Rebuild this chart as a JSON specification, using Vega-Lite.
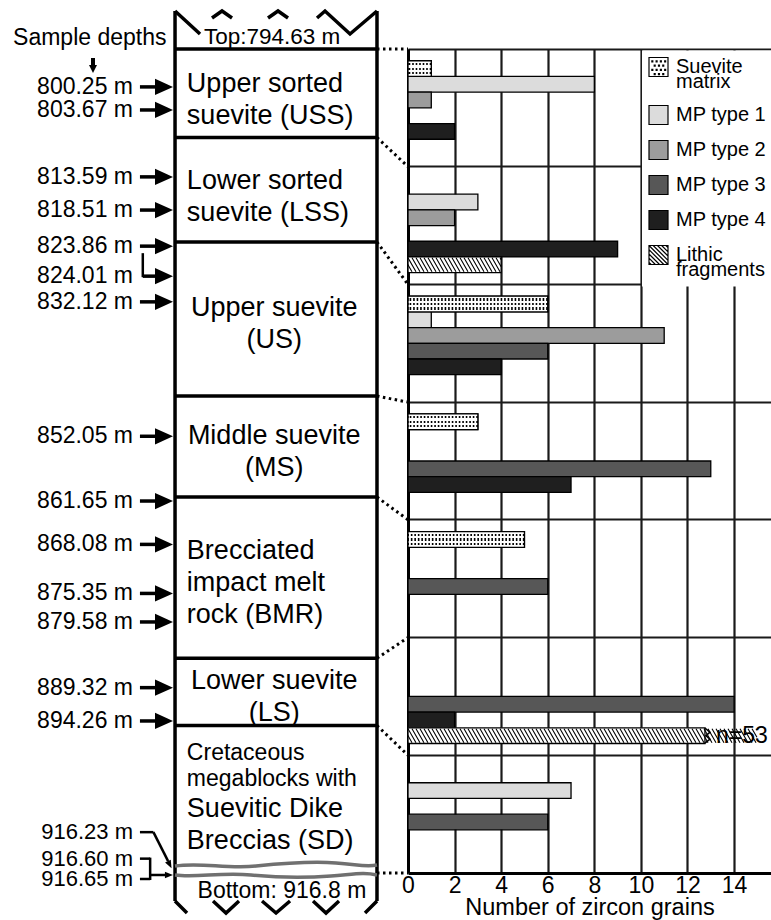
{
  "$schema": "https://vega.github.io/schema/vega-lite/v6.json",
  "background": "white",
  "padding": {"top": 4, "left": 0, "right": 0, "bottom": 0},
  "spacing": 0,
  "bounds": "flush",
  "config": {"font": "Liberation Sans", "mark": {"color": "black"}, "view": {"stroke": null}},
  "datasets": {
    "units": [
      {"unit": "USS", "label": "Upper sorted\nsuevite (USS)", "top": 794.63, "bottom": 807.75},
      {"unit": "LSS", "label": "Lower sorted\nsuevite (LSS)", "top": 807.75, "bottom": 823.25},
      {"unit": "US", "label": "Upper suevite\n(US)", "top": 823.25, "bottom": 846.09},
      {"unit": "MS", "label": "Middle suevite\n(MS)", "top": 846.09, "bottom": 861.06},
      {"unit": "BMR", "label": "Brecciated\nimpact melt\nrock (BMR)", "top": 861.06, "bottom": 884.96},
      {"unit": "LS", "label": "Lower suevite\n(LS)", "top": 884.96, "bottom": 894.94},
      {"unit": "SD", "label": "Suevitic Dike\nBreccias (SD)", "sublabel": "Cretaceous\nmegablocks with", "top": 894.94, "bottom": 916.8}
    ],
    "boundaries": [
      {"depth": 794.63, "section": 0}, {"depth": 807.75, "section": 1}, {"depth": 823.25, "section": 2},
      {"depth": 846.09, "section": 3}, {"depth": 861.06, "section": 4}, {"depth": 884.96, "section": 5},
      {"depth": 894.94, "section": 6}, {"depth": 916.8, "section": 7}
    ],
    "samples": [
      {"depth": 800.25, "label": "800.25 m"}, {"depth": 803.67, "label": "803.67 m"},
      {"depth": 813.59, "label": "813.59 m"}, {"depth": 818.51, "label": "818.51 m"},
      {"depth": 823.86, "label": "823.86 m"}, {"depth": 824.01, "label": "824.01 m"},
      {"depth": 832.12, "label": "832.12 m"}, {"depth": 852.05, "label": "852.05 m"},
      {"depth": 861.65, "label": "861.65 m"}, {"depth": 868.08, "label": "868.08 m"},
      {"depth": 875.35, "label": "875.35 m"}, {"depth": 879.58, "label": "879.58 m"},
      {"depth": 889.32, "label": "889.32 m"}, {"depth": 894.26, "label": "894.26 m"},
      {"depth": 916.23, "label": "916.23 m"}, {"depth": 916.6, "label": "916.60 m"},
      {"depth": 916.65, "label": "916.65 m"}
    ],
    "zircons": [
      {"section": "USS", "type": "Suevite matrix", "count": 1},
      {"section": "USS", "type": "MP type 1", "count": 8},
      {"section": "USS", "type": "MP type 2", "count": 1},
      {"section": "USS", "type": "MP type 4", "count": 2},
      {"section": "LSS", "type": "MP type 1", "count": 3},
      {"section": "LSS", "type": "MP type 2", "count": 2},
      {"section": "LSS", "type": "MP type 4", "count": 9},
      {"section": "LSS", "type": "Lithic fragments", "count": 4},
      {"section": "US", "type": "Suevite matrix", "count": 6},
      {"section": "US", "type": "MP type 1", "count": 1},
      {"section": "US", "type": "MP type 2", "count": 11},
      {"section": "US", "type": "MP type 3", "count": 6},
      {"section": "US", "type": "MP type 4", "count": 4},
      {"section": "MS", "type": "Suevite matrix", "count": 3},
      {"section": "MS", "type": "MP type 3", "count": 13},
      {"section": "MS", "type": "MP type 4", "count": 7},
      {"section": "BMR", "type": "Suevite matrix", "count": 5},
      {"section": "BMR", "type": "MP type 3", "count": 6},
      {"section": "LS", "type": "MP type 3", "count": 14},
      {"section": "LS", "type": "MP type 4", "count": 2},
      {"section": "LS", "type": "Lithic fragments", "count": 53},
      {"section": "SD", "type": "MP type 1", "count": 7},
      {"section": "SD", "type": "MP type 3", "count": 6}
    ]
  },
  "hconcat": [
    {
      "width": 408,
      "height": 824,
      "layer": [
        {
          "data": {"name": "units"},
          "mark": {"type": "rule", "strokeWidth": 3.5},
          "encoding": {
            "x": {"datum": 0.429, "type": "quantitative", "scale": {"domain": [0, 1]}, "axis": null},
            "x2": {"datum": 0.924},
            "y": {"field": "top", "type": "quantitative", "scale": {"domain": [794.63, 916.8], "reverse": true, "nice": false, "zero": false}, "axis": null}
          }
        },
        {
          "data": {"values": [{}]},
          "mark": {"type": "rule", "strokeWidth": 3.5, "yOffset": -38, "y2Offset": 28},
          "encoding": {
            "x": {"datum": 0.429, "type": "quantitative", "scale": {"domain": [0, 1]}, "axis": null},
            "y": {"datum": 794.63, "type": "quantitative", "scale": {"domain": [794.63, 916.8], "reverse": true, "nice": false, "zero": false}, "axis": null},
            "y2": {"datum": 916.8}
          }
        },
        {
          "data": {"values": [{}]},
          "mark": {"type": "rule", "strokeWidth": 3.5, "yOffset": -38, "y2Offset": 28},
          "encoding": {
            "x": {"datum": 0.924, "type": "quantitative", "scale": {"domain": [0, 1]}, "axis": null},
            "y": {"datum": 794.63, "type": "quantitative", "scale": {"domain": [794.63, 916.8], "reverse": true, "nice": false, "zero": false}, "axis": null},
            "y2": {"datum": 916.8}
          }
        },
        {
          "data": {"values": [{}]},
          "mark": {"type": "point", "shape": "M-101,-11L-76,12M-64,-4L-54,-11L-44,-4M-8,-4L2,-11L12,-4M41,-4L49,-11L74,12L101,-11", "size": 4, "filled": false, "strokeWidth": 3.5, "opacity": 1, "yOffset": -27},
          "encoding": {
            "x": {"datum": 0.6765, "type": "quantitative", "scale": {"domain": [0, 1]}, "axis": null},
            "y": {"datum": 794.63, "type": "quantitative", "scale": {"domain": [794.63, 916.8], "reverse": true, "nice": false, "zero": false}, "axis": null}
          }
        },
        {
          "data": {"values": [{}]},
          "mark": {"type": "point", "shape": "M-101,-6L-89,6M-63,-6L-50,6L-37,-6M-14,-6L0,6L14,-6M37,-6L50,6L63,-6M89,6L101,-6", "size": 4, "filled": false, "strokeWidth": 3.5, "opacity": 1, "yOffset": 34},
          "encoding": {
            "x": {"datum": 0.6765, "type": "quantitative", "scale": {"domain": [0, 1]}, "axis": null},
            "y": {"datum": 916.8, "type": "quantitative", "scale": {"domain": [794.63, 916.8], "reverse": true, "nice": false, "zero": false}, "axis": null}
          }
        },
        {
          "data": {"values": [{}]},
          "mark": {"type": "point", "shape": "M-101,1C-75,-3,-50,4,-20,1S35,-4,60,-2S90,2,101,0", "size": 4, "filled": false, "stroke": "#707070", "strokeWidth": 3.5, "opacity": 1, "yOffset": -8},
          "encoding": {
            "x": {"datum": 0.6765, "type": "quantitative", "scale": {"domain": [0, 1]}, "axis": null},
            "y": {"datum": 916.8, "type": "quantitative", "scale": {"domain": [794.63, 916.8], "reverse": true, "nice": false, "zero": false}, "axis": null}
          }
        },
        {
          "data": {"values": [{}]},
          "mark": {"type": "point", "shape": "M-101,0C-80,3,-55,-3,-25,0S30,3,55,1S88,-3,101,0", "size": 4, "filled": false, "stroke": "#707070", "strokeWidth": 3.5, "opacity": 1, "yOffset": 2},
          "encoding": {
            "x": {"datum": 0.6765, "type": "quantitative", "scale": {"domain": [0, 1]}, "axis": null},
            "y": {"datum": 916.8, "type": "quantitative", "scale": {"domain": [794.63, 916.8], "reverse": true, "nice": false, "zero": false}, "axis": null}
          }
        },
        {
          "data": {"values": [{}]},
          "mark": {"type": "text", "align": "center", "baseline": "middle", "fontSize": 22.5, "dy": -12},
          "encoding": {
            "x": {"datum": 0.667, "type": "quantitative", "scale": {"domain": [0, 1]}, "axis": null},
            "y": {"datum": 794.63, "type": "quantitative", "scale": {"domain": [794.63, 916.8], "reverse": true, "nice": false, "zero": false}, "axis": null},
            "text": {"value": "Top:794.63 m"}
          }
        },
        {
          "data": {"values": [{}]},
          "mark": {"type": "text", "align": "center", "baseline": "middle", "fontSize": 23, "dy": 18},
          "encoding": {
            "x": {"datum": 0.691, "type": "quantitative", "scale": {"domain": [0, 1]}, "axis": null},
            "y": {"datum": 916.8, "type": "quantitative", "scale": {"domain": [794.63, 916.8], "reverse": true, "nice": false, "zero": false}, "axis": null},
            "text": {"value": "Bottom: 916.8 m"}
          }
        },
        {
          "data": {"values": [{}]},
          "mark": {"type": "text", "align": "left", "baseline": "middle", "fontSize": 23, "dy": -11},
          "encoding": {
            "x": {"datum": 0.032, "type": "quantitative", "scale": {"domain": [0, 1]}, "axis": null},
            "y": {"datum": 794.63, "type": "quantitative", "scale": {"domain": [794.63, 916.8], "reverse": true, "nice": false, "zero": false}, "axis": null},
            "text": {"value": "Sample depths"}
          }
        },
        {
          "data": {"values": [{}]},
          "mark": {"type": "rule", "strokeWidth": 4, "yOffset": 9, "y2Offset": 16},
          "encoding": {
            "x": {"datum": 0.228, "type": "quantitative", "scale": {"domain": [0, 1]}, "axis": null},
            "y": {"datum": 794.63, "type": "quantitative", "scale": {"domain": [794.63, 916.8], "reverse": true, "nice": false, "zero": false}, "axis": null},
            "y2": {"datum": 794.63}
          }
        },
        {
          "data": {"values": [{}]},
          "mark": {"type": "point", "shape": "M-1,-1L1,-1L0,1Z", "size": 64, "filled": true, "opacity": 1, "yOffset": 20},
          "encoding": {
            "x": {"datum": 0.228, "type": "quantitative", "scale": {"domain": [0, 1]}, "axis": null},
            "y": {"datum": 794.63, "type": "quantitative", "scale": {"domain": [794.63, 916.8], "reverse": true, "nice": false, "zero": false}, "axis": null}
          }
        },
        {
          "data": {"name": "boundaries"},
          "transform": [{"calculate": "794.63 + datum.section * (916.8 - 794.63) / 7", "as": "panel_depth"}],
          "mark": {"type": "rule", "strokeWidth": 3, "strokeDash": [2.5, 3.5]},
          "encoding": {
            "x": {"datum": 0.924, "type": "quantitative", "scale": {"domain": [0, 1]}, "axis": null},
            "x2": {"datum": 1},
            "y": {"field": "depth", "type": "quantitative", "scale": {"domain": [794.63, 916.8], "reverse": true, "nice": false, "zero": false}, "axis": null},
            "y2": {"field": "panel_depth"}
          }
        },
        {
          "data": {"name": "units"},
          "transform": [{"calculate": "(datum.top + datum.bottom) / 2", "as": "mid"}, {"filter": {"field": "unit", "oneOf": ["US", "MS", "LS"]}}],
          "mark": {"type": "text", "align": "center", "baseline": "middle", "fontSize": 27, "lineBreak": "\n", "lineHeight": 32, "dy": -11},
          "encoding": {
            "x": {"datum": 0.672, "type": "quantitative", "scale": {"domain": [0, 1]}, "axis": null},
            "y": {"field": "mid", "type": "quantitative", "scale": {"domain": [794.63, 916.8], "reverse": true, "nice": false, "zero": false}, "axis": null},
            "text": {"field": "label"}
          }
        },
        {
          "data": {"name": "units"},
          "transform": [{"calculate": "(datum.top + datum.bottom) / 2", "as": "mid"}, {"filter": {"field": "unit", "oneOf": ["USS", "LSS"]}}],
          "mark": {"type": "text", "align": "left", "baseline": "middle", "fontSize": 27, "lineBreak": "\n", "lineHeight": 32, "dy": -9},
          "encoding": {
            "x": {"datum": 0.458, "type": "quantitative", "scale": {"domain": [0, 1]}, "axis": null},
            "y": {"field": "mid", "type": "quantitative", "scale": {"domain": [794.63, 916.8], "reverse": true, "nice": false, "zero": false}, "axis": null},
            "text": {"field": "label"}
          }
        },
        {
          "data": {"name": "units"},
          "transform": [{"calculate": "(datum.top + datum.bottom) / 2", "as": "mid"}, {"filter": "datum.unit === 'BMR'"}],
          "mark": {"type": "text", "align": "left", "baseline": "middle", "fontSize": 27, "lineBreak": "\n", "lineHeight": 32, "dy": -27},
          "encoding": {
            "x": {"datum": 0.458, "type": "quantitative", "scale": {"domain": [0, 1]}, "axis": null},
            "y": {"field": "mid", "type": "quantitative", "scale": {"domain": [794.63, 916.8], "reverse": true, "nice": false, "zero": false}, "axis": null},
            "text": {"field": "label"}
          }
        },
        {
          "data": {"name": "units"},
          "transform": [{"calculate": "(datum.top + datum.bottom) / 2", "as": "mid"}, {"filter": "datum.unit === 'SD'"}],
          "mark": {"type": "text", "align": "left", "baseline": "middle", "fontSize": 27, "lineBreak": "\n", "lineHeight": 32, "dy": 10},
          "encoding": {
            "x": {"datum": 0.458, "type": "quantitative", "scale": {"domain": [0, 1]}, "axis": null},
            "y": {"field": "mid", "type": "quantitative", "scale": {"domain": [794.63, 916.8], "reverse": true, "nice": false, "zero": false}, "axis": null},
            "text": {"field": "label"}
          }
        },
        {
          "data": {"name": "units"},
          "transform": [{"calculate": "(datum.top + datum.bottom) / 2", "as": "mid"}, {"filter": "datum.unit === 'SD'"}],
          "mark": {"type": "text", "align": "left", "baseline": "middle", "fontSize": 23, "lineBreak": "\n", "lineHeight": 26, "dy": -46},
          "encoding": {
            "x": {"datum": 0.458, "type": "quantitative", "scale": {"domain": [0, 1]}, "axis": null},
            "y": {"field": "mid", "type": "quantitative", "scale": {"domain": [794.63, 916.8], "reverse": true, "nice": false, "zero": false}, "axis": null},
            "text": {"field": "sublabel"}
          }
        },
        {
          "data": {"name": "samples"},
          "transform": [{"filter": "datum.depth != 824.01 && datum.depth < 916"}],
          "mark": {"type": "text", "align": "right", "baseline": "middle", "fontSize": 23},
          "encoding": {
            "x": {"datum": 0.326, "type": "quantitative", "scale": {"domain": [0, 1]}, "axis": null},
            "y": {"field": "depth", "type": "quantitative", "scale": {"domain": [794.63, 916.8], "reverse": true, "nice": false, "zero": false}, "axis": null},
            "text": {"field": "label"}
          }
        },
        {
          "data": {"name": "samples"},
          "transform": [{"filter": "datum.depth != 824.01 && datum.depth < 916"}],
          "mark": {"type": "rule", "strokeWidth": 3.5},
          "encoding": {
            "x": {"datum": 0.343, "type": "quantitative", "scale": {"domain": [0, 1]}, "axis": null},
            "x2": {"datum": 0.392},
            "y": {"field": "depth", "type": "quantitative", "scale": {"domain": [794.63, 916.8], "reverse": true, "nice": false, "zero": false}, "axis": null}
          }
        },
        {
          "data": {"name": "samples"},
          "transform": [{"filter": "datum.depth != 824.01 && datum.depth < 916"}],
          "mark": {"type": "point", "shape": "M-1,-0.9L1,0L-1,0.9Z", "size": 324, "filled": true, "opacity": 1},
          "encoding": {
            "x": {"datum": 0.402, "type": "quantitative", "scale": {"domain": [0, 1]}, "axis": null},
            "y": {"field": "depth", "type": "quantitative", "scale": {"domain": [794.63, 916.8], "reverse": true, "nice": false, "zero": false}, "axis": null}
          }
        },
        {
          "data": {"name": "samples"},
          "transform": [{"filter": "datum.depth == 824.01"}],
          "mark": {"type": "text", "align": "right", "baseline": "middle", "fontSize": 23, "dy": 29},
          "encoding": {
            "x": {"datum": 0.326, "type": "quantitative", "scale": {"domain": [0, 1]}, "axis": null},
            "y": {"field": "depth", "type": "quantitative", "scale": {"domain": [794.63, 916.8], "reverse": true, "nice": false, "zero": false}, "axis": null},
            "text": {"field": "label"}
          }
        },
        {
          "data": {"name": "samples"},
          "transform": [{"filter": "datum.depth == 824.01"}],
          "mark": {"type": "rule", "strokeWidth": 3.5, "yOffset": 29},
          "encoding": {
            "x": {"datum": 0.35, "type": "quantitative", "scale": {"domain": [0, 1]}, "axis": null},
            "x2": {"datum": 0.392},
            "y": {"field": "depth", "type": "quantitative", "scale": {"domain": [794.63, 916.8], "reverse": true, "nice": false, "zero": false}, "axis": null}
          }
        },
        {
          "data": {"name": "samples"},
          "transform": [{"filter": "datum.depth == 824.01"}],
          "mark": {"type": "rule", "strokeWidth": 2.5, "yOffset": 6, "y2Offset": 30},
          "encoding": {
            "x": {"datum": 0.35, "type": "quantitative", "scale": {"domain": [0, 1]}, "axis": null},
            "y": {"field": "depth", "type": "quantitative", "scale": {"domain": [794.63, 916.8], "reverse": true, "nice": false, "zero": false}, "axis": null},
            "y2": {"field": "depth"}
          }
        },
        {
          "data": {"name": "samples"},
          "transform": [{"filter": "datum.depth == 824.01"}],
          "mark": {"type": "point", "shape": "M-1,-0.9L1,0L-1,0.9Z", "size": 324, "filled": true, "opacity": 1, "yOffset": 29},
          "encoding": {
            "x": {"datum": 0.402, "type": "quantitative", "scale": {"domain": [0, 1]}, "axis": null},
            "y": {"field": "depth", "type": "quantitative", "scale": {"domain": [794.63, 916.8], "reverse": true, "nice": false, "zero": false}, "axis": null}
          }
        },
        {
          "data": {"name": "samples"},
          "transform": [{"filter": "datum.depth == 916.23"}],
          "mark": {"type": "text", "align": "right", "baseline": "middle", "fontSize": 22, "dy": -37},
          "encoding": {
            "x": {"datum": 0.326, "type": "quantitative", "scale": {"domain": [0, 1]}, "axis": null},
            "y": {"field": "depth", "type": "quantitative", "scale": {"domain": [794.63, 916.8], "reverse": true, "nice": false, "zero": false}, "axis": null},
            "text": {"field": "label"}
          }
        },
        {
          "data": {"name": "samples"},
          "transform": [{"filter": "datum.depth == 916.23"}],
          "mark": {"type": "rule", "strokeWidth": 2.5, "yOffset": -37},
          "encoding": {
            "x": {"datum": 0.343, "type": "quantitative", "scale": {"domain": [0, 1]}, "axis": null},
            "x2": {"datum": 0.376},
            "y": {"field": "depth", "type": "quantitative", "scale": {"domain": [794.63, 916.8], "reverse": true, "nice": false, "zero": false}, "axis": null}
          }
        },
        {
          "data": {"name": "samples"},
          "transform": [{"filter": "datum.depth == 916.23"}],
          "mark": {"type": "rule", "strokeWidth": 2.5, "yOffset": -37, "y2Offset": -8},
          "encoding": {
            "x": {"datum": 0.376, "type": "quantitative", "scale": {"domain": [0, 1]}, "axis": null},
            "x2": {"datum": 0.412},
            "y": {"field": "depth", "type": "quantitative", "scale": {"domain": [794.63, 916.8], "reverse": true, "nice": false, "zero": false}, "axis": null},
            "y2": {"field": "depth"}
          }
        },
        {
          "data": {"name": "samples"},
          "transform": [{"filter": "datum.depth == 916.23"}],
          "mark": {"type": "point", "shape": "M-1,-0.8L1,0L-1,0.8Z", "size": 64, "filled": true, "opacity": 1, "angle": 63, "yOffset": -4.5},
          "encoding": {
            "x": {"datum": 0.416, "type": "quantitative", "scale": {"domain": [0, 1]}, "axis": null},
            "y": {"field": "depth", "type": "quantitative", "scale": {"domain": [794.63, 916.8], "reverse": true, "nice": false, "zero": false}, "axis": null}
          }
        },
        {
          "data": {"name": "samples"},
          "transform": [{"filter": "datum.depth == 916.6"}],
          "mark": {"type": "text", "align": "right", "baseline": "middle", "fontSize": 22, "dy": -13},
          "encoding": {
            "x": {"datum": 0.326, "type": "quantitative", "scale": {"domain": [0, 1]}, "axis": null},
            "y": {"field": "depth", "type": "quantitative", "scale": {"domain": [794.63, 916.8], "reverse": true, "nice": false, "zero": false}, "axis": null},
            "text": {"field": "label"}
          }
        },
        {
          "data": {"name": "samples"},
          "transform": [{"filter": "datum.depth == 916.6"}],
          "mark": {"type": "rule", "strokeWidth": 2.5, "yOffset": -13},
          "encoding": {
            "x": {"datum": 0.343, "type": "quantitative", "scale": {"domain": [0, 1]}, "axis": null},
            "x2": {"datum": 0.368},
            "y": {"field": "depth", "type": "quantitative", "scale": {"domain": [794.63, 916.8], "reverse": true, "nice": false, "zero": false}, "axis": null}
          }
        },
        {
          "data": {"name": "samples"},
          "transform": [{"filter": "datum.depth == 916.6"}],
          "mark": {"type": "rule", "strokeWidth": 2.5, "yOffset": -14, "y2Offset": 8},
          "encoding": {
            "x": {"datum": 0.368, "type": "quantitative", "scale": {"domain": [0, 1]}, "axis": null},
            "y": {"field": "depth", "type": "quantitative", "scale": {"domain": [794.63, 916.8], "reverse": true, "nice": false, "zero": false}, "axis": null},
            "y2": {"datum": 916.65}
          }
        },
        {
          "data": {"name": "samples"},
          "transform": [{"filter": "datum.depth == 916.65"}],
          "mark": {"type": "text", "align": "right", "baseline": "middle", "fontSize": 22, "dy": 7},
          "encoding": {
            "x": {"datum": 0.326, "type": "quantitative", "scale": {"domain": [0, 1]}, "axis": null},
            "y": {"field": "depth", "type": "quantitative", "scale": {"domain": [794.63, 916.8], "reverse": true, "nice": false, "zero": false}, "axis": null},
            "text": {"field": "label"}
          }
        },
        {
          "data": {"name": "samples"},
          "transform": [{"filter": "datum.depth == 916.65"}],
          "mark": {"type": "rule", "strokeWidth": 2.5, "yOffset": 7},
          "encoding": {
            "x": {"datum": 0.343, "type": "quantitative", "scale": {"domain": [0, 1]}, "axis": null},
            "x2": {"datum": 0.368},
            "y": {"field": "depth", "type": "quantitative", "scale": {"domain": [794.63, 916.8], "reverse": true, "nice": false, "zero": false}, "axis": null}
          }
        },
        {
          "data": {"name": "samples"},
          "transform": [{"filter": "datum.depth == 916.65"}],
          "mark": {"type": "rule", "strokeWidth": 2.5, "yOffset": 3},
          "encoding": {
            "x": {"datum": 0.368, "type": "quantitative", "scale": {"domain": [0, 1]}, "axis": null},
            "x2": {"datum": 0.405},
            "y": {"field": "depth", "type": "quantitative", "scale": {"domain": [794.63, 916.8], "reverse": true, "nice": false, "zero": false}, "axis": null}
          }
        },
        {
          "data": {"name": "samples"},
          "transform": [{"filter": "datum.depth == 916.65"}],
          "mark": {"type": "point", "shape": "M-1,-0.8L1,0L-1,0.8Z", "size": 64, "filled": true, "opacity": 1, "yOffset": 3},
          "encoding": {
            "x": {"datum": 0.414, "type": "quantitative", "scale": {"domain": [0, 1]}, "axis": null},
            "y": {"field": "depth", "type": "quantitative", "scale": {"domain": [794.63, 916.8], "reverse": true, "nice": false, "zero": false}, "axis": null}
          }
        }
      ]
    },
    {
      "width": 363,
      "height": 824,
      "data": {"name": "zircons"},
      "transform": [{"calculate": "datum.count > 15 ? 12.75 : datum.count", "as": "shown"}],
      "encoding": {
        "y": {
          "field": "section", "type": "nominal",
          "sort": ["USS", "LSS", "US", "MS", "BMR", "LS", "SD"],
          "scale": {"domain": ["USS", "LSS", "US", "MS", "BMR", "LS", "SD"], "paddingInner": 0, "paddingOuter": 0},
          "axis": {"title": null, "labels": false, "ticks": false, "domain": true, "domainWidth": 3, "domainColor": "black", "grid": true, "gridColor": "#1a1a1a", "gridWidth": 2.2, "gridOpacity": 1, "bandPosition": 0}
        },
        "yOffset": {
          "field": "type", "type": "nominal",
          "sort": ["Suevite matrix", "MP type 1", "MP type 2", "MP type 3", "MP type 4", "Lithic fragments"],
          "scale": {"domain": ["Suevite matrix", "MP type 1", "MP type 2", "MP type 3", "MP type 4", "Lithic fragments"], "paddingInner": 0, "paddingOuter": 0.75}
        },
        "x": {
          "field": "shown", "type": "quantitative",
          "scale": {"domain": [0, 15.586], "nice": false, "zero": true},
          "axis": {"values": [0, 2, 4, 6, 8, 10, 12, 14], "grid": true, "gridColor": "#1a1a1a", "gridWidth": 2.2, "gridOpacity": 1, "ticks": false, "domain": true, "domainWidth": 3, "domainColor": "black", "labelFontSize": 23, "labelColor": "black", "labelPadding": 1, "labelFlush": false, "title": "Number of zircon grains", "titleFontSize": 23.5, "titleFontWeight": "normal", "titleColor": "black", "titlePadding": -2}
        }
      },
      "layer": [
        {
          "mark": {"type": "bar", "stroke": "black", "strokeWidth": 1.3},
          "encoding": {
            "fill": {
              "field": "type", "type": "nominal",
              "sort": ["Suevite matrix", "MP type 1", "MP type 2", "MP type 3", "MP type 4", "Lithic fragments"],
              "scale": {"domain": ["Suevite matrix", "MP type 1", "MP type 2", "MP type 3", "MP type 4", "Lithic fragments"], "range": ["#ffffff", "#dcdcdc", "#9c9c9c", "#575757", "#1f1f1f", "#ffffff"]},
              "legend": {
                "title": null, "orient": "none", "direction": "vertical", "legendX": 642, "legendY": 1.5,
                "fillColor": "white", "padding": 6, "rowPadding": 10,
                "symbolSize": 361, "symbolStrokeColor": "black", "symbolStrokeWidth": 1.2,
                "labelFontSize": 20, "labelColor": "black", "labelOffset": 7, "labelLimit": 200,
                "labelExpr": "datum.label === 'Suevite matrix' ? ['Suevite', 'matrix'] : datum.label === 'Lithic fragments' ? ['Lithic', 'fragments'] : datum.label",
                "encode": {
                  "symbols": {"update": {"shape": {"signal": "datum.value === 'Suevite matrix' ? 'M-1,-1H1V1H-1Z M-0.7,-0.65h0.1v0.1h-0.1Z M-0.25,-0.65h0.1v0.1h-0.1Z M0.2,-0.65h0.1v0.1h-0.1Z M0.65,-0.65h0.1v0.1h-0.1Z M-0.45,-0.2h0.1v0.1h-0.1Z M0,-0.2h0.1v0.1h-0.1Z M0.45,-0.2h0.1v0.1h-0.1Z M-0.7,0.25h0.1v0.1h-0.1Z M-0.25,0.25h0.1v0.1h-0.1Z M0.2,0.25h0.1v0.1h-0.1Z M0.65,0.25h0.1v0.1h-0.1Z M-0.45,0.7h0.1v0.1h-0.1Z M0,0.7h0.1v0.1h-0.1Z M0.45,0.7h0.1v0.1h-0.1Z' : datum.value === 'Lithic fragments' ? 'M-1,-1H1V1H-1Z M-1,-1L1,1 M-0.56,-1L1,0.56 M-0.11,-1L1,0.11 M0.33,-1L1,-0.33 M0.78,-1L1,-0.78 M-1,-0.56L0.56,1 M-1,-0.11L0.11,1 M-1,0.33L-0.33,1 M-1,0.78L-0.78,1' : 'square'"}}},
                  "labels": {"update": {"lineHeight": {"value": 15}}}
                }
              }
            }
          }
        },
        {
          "transform": [{"filter": "datum.type === 'Lithic fragments' && datum.section === 'LSS'"}],
          "mark": {"type": "point", "shape": "M-8,-7l8,14m-4,-14l8,14m-4,-14l8,14m-4,-14l8,14m-4,-14l8,14m-4,-14l8,14m-4,-14l8,14m-4,-14l8,14m-4,-14l8,14m-4,-14l8,14m-4,-14l8,14m-4,-14l8,14m-4,-14l8,14m-4,-14l8,14m-4,-14l8,14m-4,-14l8,14m-4,-14l8,14m-4,-14l8,14m-4,-14l8,14m-4,-14l8,14m-4,-14l8,14m-4,-14l8,14m-4,-14l8,14m-4,-14l8,14m-4,-14l5.16,9.03m-1.16,-9.03l1.16,2.03", "size": 4, "filled": false, "stroke": "black", "strokeWidth": 1.1, "opacity": 1, "clip": true},
          "encoding": {"x": {"datum": 0}}
        },
        {
          "transform": [{"filter": "datum.type === 'Lithic fragments' && datum.section === 'LS'"}],
          "mark": {"type": "point", "shape": "M-8,-7l8,14m-4,-14l8,14m-4,-14l8,14m-4,-14l8,14m-4,-14l8,14m-4,-14l8,14m-4,-14l8,14m-4,-14l8,14m-4,-14l8,14m-4,-14l8,14m-4,-14l8,14m-4,-14l8,14m-4,-14l8,14m-4,-14l8,14m-4,-14l8,14m-4,-14l8,14m-4,-14l8,14m-4,-14l8,14m-4,-14l8,14m-4,-14l8,14m-4,-14l8,14m-4,-14l8,14m-4,-14l8,14m-4,-14l8,14m-4,-14l8,14m-4,-14l8,14m-4,-14l8,14m-4,-14l8,14m-4,-14l8,14m-4,-14l8,14m-4,-14l8,14m-4,-14l8,14m-4,-14l8,14m-4,-14l8,14m-4,-14l8,14m-4,-14l8,14m-4,-14l8,14m-4,-14l8,14m-4,-14l8,14m-4,-14l8,14m-4,-14l8,14m-4,-14l8,14m-4,-14l8,14m-4,-14l8,14m-4,-14l8,14m-4,-14l8,14m-4,-14l8,14m-4,-14l8,14m-4,-14l8,14m-4,-14l8,14m-4,-14l8,14m-4,-14l8,14m-4,-14l8,14m-4,-14l8,14m-4,-14l8,14m-4,-14l8,14m-4,-14l8,14m-4,-14l8,14m-4,-14l8,14m-4,-14l8,14m-4,-14l8,14m-4,-14l8,14m-4,-14l8,14m-4,-14l8,14m-4,-14l8,14m-4,-14l8,14m-4,-14l8,14m-4,-14l8,14m-4,-14l8,14m-4,-14l8,14m-4,-14l8,14m-4,-14l8,14m-4,-14l8,14m-4,-14l8,14m-4,-14l8,14m-4,-14l8,14m-4,-14l8,14m-4,-14l8,14m-4,-14l8,14m-4,-14l8,14m-4,-14l8,14m-4,-14l8,14m-4,-14l8,14m-4,-14l8,14m-4,-14l8,14m-4,-14l8,14m-4,-14l8,14m-4,-14l8,14m-4,-14l4.95,8.66m-0.95,-8.66l0.95,1.66", "size": 4, "filled": false, "stroke": "black", "strokeWidth": 1.1, "opacity": 1, "clip": true},
          "encoding": {"x": {"datum": 0}}
        },
        {
          "transform": [{"filter": "datum.type === 'Suevite matrix'"}],
          "mark": {"type": "rule", "strokeWidth": 12.5, "strokeDash": [1.6, 1.9]},
          "encoding": {"x2": {"datum": 0}}
        },
        {
          "transform": [{"filter": "datum.type === 'Suevite matrix'"}],
          "mark": {
            "type": "bar", "stroke": "black", "strokeWidth": 1.3,
            "fill": {"gradient": "linear", "x1": 0, "y1": 0, "x2": 0, "y2": 1, "stops": [
              {"offset": 0, "color": "white"}, {"offset": 0.14, "color": "white"},
              {"offset": 0.14, "color": "rgba(255,255,255,0)"}, {"offset": 0.29, "color": "rgba(255,255,255,0)"},
              {"offset": 0.29, "color": "white"}, {"offset": 0.43, "color": "white"},
              {"offset": 0.43, "color": "rgba(255,255,255,0)"}, {"offset": 0.57, "color": "rgba(255,255,255,0)"},
              {"offset": 0.57, "color": "white"}, {"offset": 0.71, "color": "white"},
              {"offset": 0.71, "color": "rgba(255,255,255,0)"}, {"offset": 0.86, "color": "rgba(255,255,255,0)"},
              {"offset": 0.86, "color": "white"}, {"offset": 1, "color": "white"}
            ]}
          }
        },
        {
          "transform": [{"filter": "datum.count > datum.shown"}],
          "mark": {"type": "point", "shape": "M0,-7.5L5,-3.5L1,0L5,3.5L0,7.5", "size": 4, "filled": false, "stroke": "black", "strokeWidth": 1.5, "opacity": 1}
        },
        {
          "transform": [{"filter": "datum.count > datum.shown"}, {"calculate": "'n=' + datum.count", "as": "note"}],
          "mark": {"type": "text", "align": "left", "baseline": "middle", "fontSize": 23, "dx": 11},
          "encoding": {"text": {"field": "note"}}
        }
      ]
    }
  ]
}
